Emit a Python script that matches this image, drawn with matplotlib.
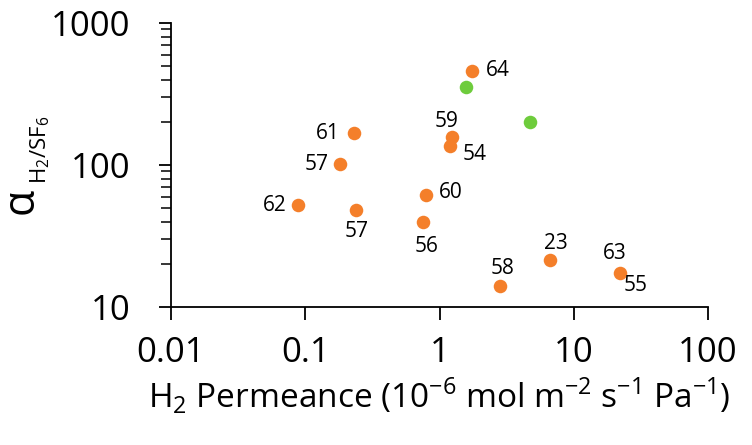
import matplotlib.pyplot as plt
from matplotlib.ticker import LogLocator, NullFormatter, FixedLocator

plt.rcParams['font.family'] = ['Open Sans', 'DejaVu Sans']
plt.rcParams['mathtext.fontset'] = 'custom'
plt.rcParams['mathtext.rm'] = 'Open Sans'

# membranes from this work (green) and literature (orange, with ref numbers)
green_x = [1.58, 4.7]
green_y = [355, 200]

ref_x = [1.75, 0.23, 1.24, 1.2, 0.18, 0.088, 0.24, 0.79, 0.75, 2.8, 6.6, 22]
ref_y = [460, 168, 157, 136, 101, 52, 48, 61, 40, 14, 21.3, 17.4]
ref_labels = ["64", "61", "59", "54", "57", "62", "57", "60", "56", "58", "23", "63"]
# label offsets in pixels (dx, dy), dy positive = up
label_off = [(14, 0, 'left'), (-14, 0, 'right'), (-5, 16, 'center'), (12, -8, 'left'),
             (-11, 0, 'right'), (-11, 0, 'right'), (0, -21, 'center'), (13, 3, 'left'),
             (4, -25, 'center'), (3, 18, 'center'), (6, 17, 'center'), (-5, 19, 'center')]

orange = '#F47F2A'
green = '#6ECC3C'

fig = plt.figure(figsize=(7.52, 4.45), dpi=100)
ax = fig.add_axes([171/752, 1 - 307/445, (708 - 171)/752, (307 - 23)/445])

ax.scatter(ref_x, ref_y, s=95, color=orange, zorder=3, linewidths=0)
ax.scatter(green_x, green_y, s=95, color=green, zorder=3, linewidths=0)

for x, y, lab, (dx, dy, ha) in zip(ref_x, ref_y, ref_labels, label_off):
    ax.annotate(lab, (x, y), xytext=(dx, dy), textcoords='offset pixels',
                ha=ha, va='center', fontsize=15)
# second label on the last point
ax.annotate("55", (ref_x[-1], ref_y[-1]), xytext=(16, -13), textcoords='offset pixels',
            ha='center', va='center', fontsize=15)

ax.set_xscale('log')
ax.set_yscale('log')
ax.set_xlim(0.01, 100)
ax.set_ylim(10, 1000)

ax.spines['top'].set_visible(False)
ax.spines['right'].set_visible(False)
for sp in ['left', 'bottom']:
    ax.spines[sp].set_linewidth(1.3)

ax.xaxis.set_major_locator(FixedLocator([0.01, 0.1, 1, 10, 100]))
ax.xaxis.set_minor_locator(FixedLocator([]))
ax.set_xticklabels(["0.01", "0.1", "1", "10", "100"])
ax.yaxis.set_major_locator(FixedLocator([10, 100, 1000]))
ax.yaxis.set_minor_locator(LogLocator(base=10, subs=range(2, 10)))
ax.yaxis.set_minor_formatter(NullFormatter())
ax.set_yticklabels(["10", "100", "1000"])

ax.tick_params(axis='x', which='major', direction='out', length=9, width=1.3,
               labelsize=25, pad=12)
ax.tick_params(axis='y', which='major', direction='out', length=9, width=1.3,
               labelsize=25, pad=20)
ax.tick_params(axis='y', which='minor', direction='out', length=7, width=1.1)

ax.set_xlabel(r"H$_2$ Permeance (10$^{\mathregular{-6}}$ mol m$^{\mathregular{-2}}$ s$^{\mathregular{-1}}$ Pa$^{\mathregular{-1}}$)",
              fontsize=24, labelpad=4)

# y label: alpha with subscript
fig.text(21/752, 1 - 201/445, "α", rotation=90, fontsize=31, ha='center', va='center')
fig.text(40/752, 1 - 150/445, r"H$_2$/SF$_6$", rotation=90, fontsize=16, ha='center', va='center')

fig.savefig("out.png", dpi=100)
